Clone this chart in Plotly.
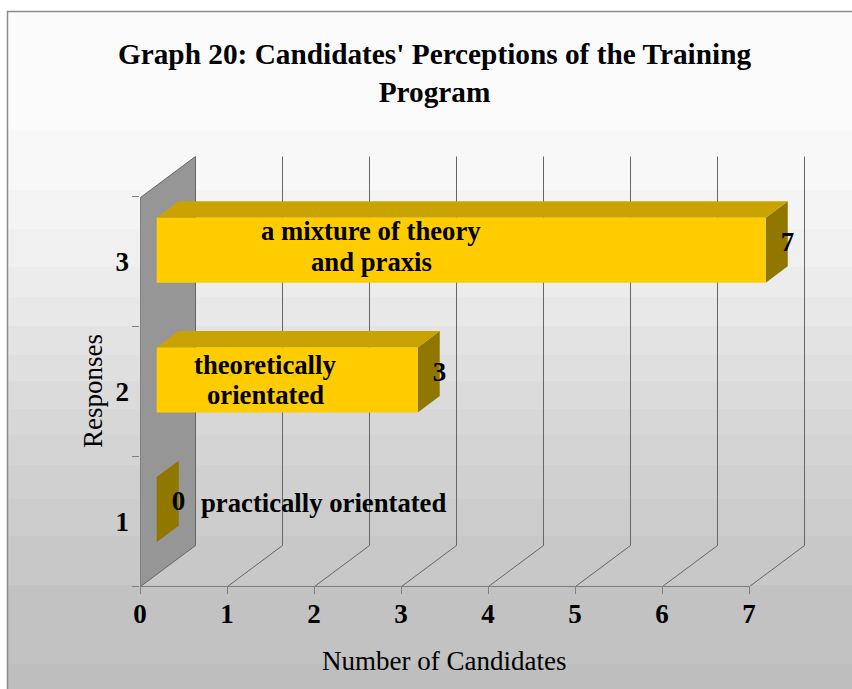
import plotly.graph_objects as go

# ---- data ----
categories = [1, 2, 3]
values = [0, 3, 7]
bar_labels = [["practically orientated"], ["theoretically", "orientated"], ["a mixture of theory", "and praxis"]]
x_ticks = [0, 1, 2, 3, 4, 5, 6, 7]
title_text = "Graph 20: Candidates' Perceptions of the Training<br>Program"
x_title = "Number of Candidates"
y_title = "Responses"

# ---- layout constants ----
W, H = 852, 689
L, R, T, B = 140, 805, 156, 590   # plot box, a little below the axis so its line is not clipped
AXIS_PX = 586
UX = 87.0
UY = 129.67
X_MIN, X_MAX = 0, (R - L) / UX
Y_BASE = 0.5
Y_TOP = 3.5
Y_MIN, Y_MAX = Y_BASE - (B - AXIS_PX) / UY, Y_BASE + (AXIS_PX - T) / UY
# oblique depth, in axis units
DX = 55 / UX
DY = 41 / UY
BAR_HALF = 32.5 / UY
D0, D1 = 0.295, 0.695
FONT = "Liberation Serif"
INK = "#000000"
AXIS = "#808080"
GRID = "#666666"
# half-pixel nudge so one-pixel lines stay crisp
NX, NY = 0.5 / UX, -0.5 / UY
# background bands: lower edge in pixels, grey level
BAND_EDGES = [130, 190, 229, 267, 297, 326, 355, 381, 409, 435, 465, 499, 536, 585, 664, 689]
BAND_GREYS = [251, 248, 244, 240, 236, 232, 227, 223, 219, 215, 212, 208, 204, 200, 194, 190]


def proj(v, c, d):
    return v + DX * d + NX, c + DY * d + NY


def px_x(p):
    return (p - L) / (R - L)


def px_y(p):
    return (B - p) / (B - T)


def poly(points, fill, line=None, width=1):
    xs = [p[0] for p in points] + [points[0][0]]
    ys = [p[1] for p in points] + [points[0][1]]
    return go.Scatter(
        x=xs, y=ys, mode="lines", fill="toself", fillcolor=fill,
        line=dict(color=line or fill, width=width if line else 0),
        hoverinfo="skip", showlegend=False,
    )


def path(points, color=GRID, width=1):
    return go.Scatter(
        x=[p[0] for p in points], y=[p[1] for p in points], mode="lines",
        line=dict(color=color, width=width), hoverinfo="skip", showlegend=False,
    )


fig = go.Figure()

# side wall
fig.add_trace(poly(
    [proj(0, Y_BASE, 0), proj(0, Y_BASE, 1), proj(0, Y_TOP, 1), proj(0, Y_TOP, 0)],
    "#969696", GRID, 1,
))
# floor and back gridlines
for t in x_ticks[1:]:
    fig.add_trace(path([proj(t, Y_BASE, 0), proj(t, Y_BASE, 1), proj(t, Y_TOP, 1)]))
# axis lines
fig.add_trace(path([proj(0, Y_BASE, 0), proj(x_ticks[-1], Y_BASE, 0)], AXIS))
fig.add_trace(path([proj(0, Y_BASE, 0), proj(0, Y_TOP, 0)], AXIS))

# bars
for c, v in zip(categories, values):
    lo, hi = c - BAR_HALF, c + BAR_HALF
    fig.add_trace(poly([proj(v, lo, D0), proj(v, lo, D1), proj(v, hi, D1), proj(v, hi, D0)], "#8F7700"))
    if v > 0:
        fig.add_trace(poly([proj(0, hi, D0), proj(v, hi, D0), proj(v, hi, D1), proj(0, hi, D1)], "#C9A400"))
        fig.add_trace(poly([proj(0, lo, D0), proj(v, lo, D0), proj(v, hi, D0), proj(0, hi, D0)], "#FFCC00"))

# value labels at the bar ends
fig.add_trace(go.Scatter(
    x=[proj(v, c, 0.69)[0] for c, v in zip(categories, values)],
    y=[proj(v, c, 0.44)[1] for c, v in zip(categories, values)],
    mode="text", text=[str(v) for v in values], textposition="middle center",
    textfont=dict(family=FONT, size=27, color=INK, weight="bold"),
    hoverinfo="skip", showlegend=False, cliponaxis=False,
))
# invisible trace keeps the category label axis alive
fig.add_trace(go.Scatter(x=[0], y=[1], yaxis="y2", mode="markers", marker=dict(opacity=0),
                         hoverinfo="skip", showlegend=False))

# text-box labels placed by hand in the source chart
label_pos = [[(323.5, 503)], [(265, 365), (265, 395)], [(371, 231), (371, 262)]]
annotations = []
for lines, spots in zip(bar_labels, label_pos):
    for txt, (px, py) in zip(lines, spots):
        annotations.append(dict(
            text=txt, x=px_x(px), y=px_y(py), xref="paper", yref="paper", showarrow=False,
            xanchor="center", yanchor="middle",
            font=dict(family=FONT, size=26.7, color=INK, weight="bold")))
annotations.append(dict(text=y_title, x=px_x(93), y=px_y(391), xref="paper", yref="paper",
                        showarrow=False, textangle=-90, xanchor="center", yanchor="middle",
                        font=dict(family=FONT, size=27, color=INK)))
annotations.append(dict(text=x_title, x=px_x(444), y=px_y(661), xref="paper", yref="paper",
                        showarrow=False, xanchor="center", yanchor="middle",
                        font=dict(family=FONT, size=27, color=INK)))

# banded grey background and frame
shapes = []
y0 = 11
for y1, g in zip(BAND_EDGES, BAND_GREYS):
    shapes.append(dict(type="rect", xref="paper", yref="paper", layer="below",
                       x0=px_x(7), x1=px_x(W), y0=px_y(y0), y1=px_y(y1),
                       fillcolor=f"rgb({g},{g},{g})", line=dict(width=0)))
    y0 = y1
shapes.append(dict(type="rect", xref="paper", yref="paper", layer="below",
                   x0=px_x(7.5), x1=px_x(W + 5), y0=px_y(11.5), y1=px_y(H + 5),
                   line=dict(color="#8c8c8c", width=1.5)))

axis_font = dict(family=FONT, size=27, color=INK, weight="bold")
fig.update_layout(
    width=W, height=H, autosize=False,
    margin=dict(l=L, r=W - R, t=T, b=H - B, pad=0),
    paper_bgcolor="white", plot_bgcolor="rgba(0,0,0,0)",
    showlegend=False,
    title=dict(text=title_text, x=434.5 / W, xanchor="center", xref="container",
               y=1 - 63.5 / H, yanchor="middle", yref="container",
               font=dict(family=FONT, size=29.3, color=INK, weight="bold")),
    xaxis=dict(range=[X_MIN, X_MAX], tickvals=x_ticks, ticks="outside", ticklen=7, tickwidth=1,
               tickcolor=AXIS, showgrid=False, zeroline=False, showline=False, tickfont=axis_font,
               ticklabelstandoff=-3, anchor="free", position=px_y(AXIS_PX)),
    yaxis=dict(range=[Y_MIN, Y_MAX], tickvals=[0.5, 1.5, 2.5, 3.5], ticktext=["", "", "", ""],
               ticks="outside", ticklen=7, tickwidth=1, tickcolor=AXIS, showgrid=False,
               zeroline=False, showline=False),
    yaxis2=dict(range=[Y_MIN, Y_MAX], overlaying="y", side="left", tickvals=categories,
                ticks="", showgrid=False, zeroline=False, showline=False, tickfont=axis_font,
                ticklabelstandoff=10),
    shapes=shapes,
    annotations=annotations,
)
fig.write_html("out.html", config=dict(displayModeBar=False),
               post_script="document.body.style.margin='0';")
